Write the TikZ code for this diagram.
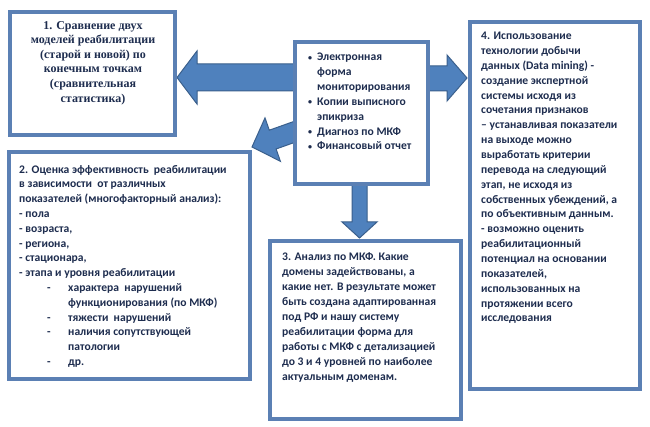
\documentclass[tikz,border=0pt]{standalone}
\usepackage{fontspec}
\setmainfont{Carlito}
\newfontfamily\serifb[BoldFont={Liberation Serif Bold}]{Liberation Serif}
\definecolor{boxblue}{HTML}{5B80B4}
\definecolor{arrfill}{HTML}{4F81BD}
\definecolor{arrline}{HTML}{3A5F8C}
\definecolor{txt}{HTML}{1E2D4F}
\newcommand{\smbul}{\makebox[9pt][l]{\fontsize{8}{8}\selectfont\raisebox{0.5pt}{•}}}
\begin{document}
\begin{tikzpicture}[x=1pt,y=-1pt,
  box/.style={draw=boxblue, line width=4pt, fill=white, rectangle, inner sep=0pt, outer sep=0pt, anchor=north west},
  blockarrow/.style={fill=arrfill, draw=arrline, line width=1pt, line join=miter},
  txtnode/.style={anchor=north west, inner sep=0pt, align=left, text=txt, font=\bfseries\fontsize{11.6}{14.85}\selectfont}]
\useasboundingbox (0,0) rectangle (650,427);
\fill[white] (0,0) rectangle (650,427);
% arrows
\draw[blockarrow] (296,64) -- (197,64) -- (197,51) -- (177,77.5) -- (197,104) -- (197,91) -- (296,91) -- cycle;
\draw[blockarrow] (426,66) -- (447,66) -- (447,55) -- (467,78) -- (447,101) -- (447,91) -- (426,91) -- cycle;
\draw[blockarrow] (352,182) -- (352,222) -- (342,222) -- (359.5,238) -- (377,222) -- (367,222) -- (367,182) -- cycle;
\draw[blockarrow] (296,120.7) -- (269.3,130.2) -- (265,117.9) -- (252,147) -- (280.4,161.3) -- (276.1,149) -- (296,141.9) -- cycle;
% boxes
\node[box, minimum width=165pt, minimum height=123pt] (b1) at (10,12) {};
\node[box, minimum width=133pt, minimum height=142pt] (src) at (295,42) {};
\node[box, minimum width=170pt, minimum height=367pt] (b4) at (470,22) {};
\node[box, minimum width=241pt, minimum height=227pt] (b2) at (9,152) {};
\node[box, minimum width=191pt, minimum height=178pt] (b3) at (270,241) {};
% texts
\node[anchor=north, inner sep=0pt, align=center, text=txt, font=\serifb\bfseries\fontsize{12}{14.6}\selectfont] (t1) at (93,21)
 {1. Сравнение двух\\моделей реабилитации\\(старой и новой) по\\конечным точкам\\(сравнительная\\статистика)};
\node[txtnode] (ts) at (308,53)
 {\smbul Электронная\\\hspace*{9pt}форма\\\hspace*{9pt}мониторирования\\\smbul Копии выписного\\\hspace*{9pt}эпикриза\\\smbul Диагноз по МКФ\\\smbul Финансовый отчет};
\node[txtnode] (t4) at (481,32)
 {4. Использование\\технологии добычи\\данных (Data mining) -\\создание экспертной\\системы исходя из\\сочетания признаков\\– устанавливая показатели\\на выходе можно\\выработать критерии\\перевода на следующий\\этап, не исходя из\\собственных убеждений, а\\по объективным данным.\\- возможно оценить\\реабилитационный\\потенциал на основании\\показателей,\\использованных на\\протяжении всего\\исследования};
\node[txtnode, font=\bfseries\fontsize{11.6}{14.8}\selectfont] (t2) at (19,165)
 {2. Оценка эффективность\ \ реабилитации\\в зависимости\ \ от различных\\показателей (многофакторный анализ):\\- пола\\- возраста,\\- региона,\\- стационара,\\- этапа и уровня реабилитации\\
 \makebox[49pt][l]{\hspace*{28pt}-}характера\ \ нарушений\\\hspace*{49pt}функционирования (по МКФ)\\
 \makebox[49pt][l]{\hspace*{28pt}-}тяжести\ \ нарушений\\\makebox[49pt][l]{\hspace*{28pt}-}наличия сопутствующей\\\hspace*{49pt}патологии\\\makebox[49pt][l]{\hspace*{28pt}-}др.};
\node[txtnode, font=\bfseries\fontsize{11.6}{15.1}\selectfont] (t3) at (282,252)
 {3. Анализ по МКФ. Какие\\домены задействованы, а\\какие нет. В результате может\\быть создана адаптированная\\под РФ и нашу систему\\реабилитации форма для\\работы с МКФ с детализацией\\до 3 и 4 уровней по наиболее\\актуальным доменам.};
\end{tikzpicture}
\end{document}
